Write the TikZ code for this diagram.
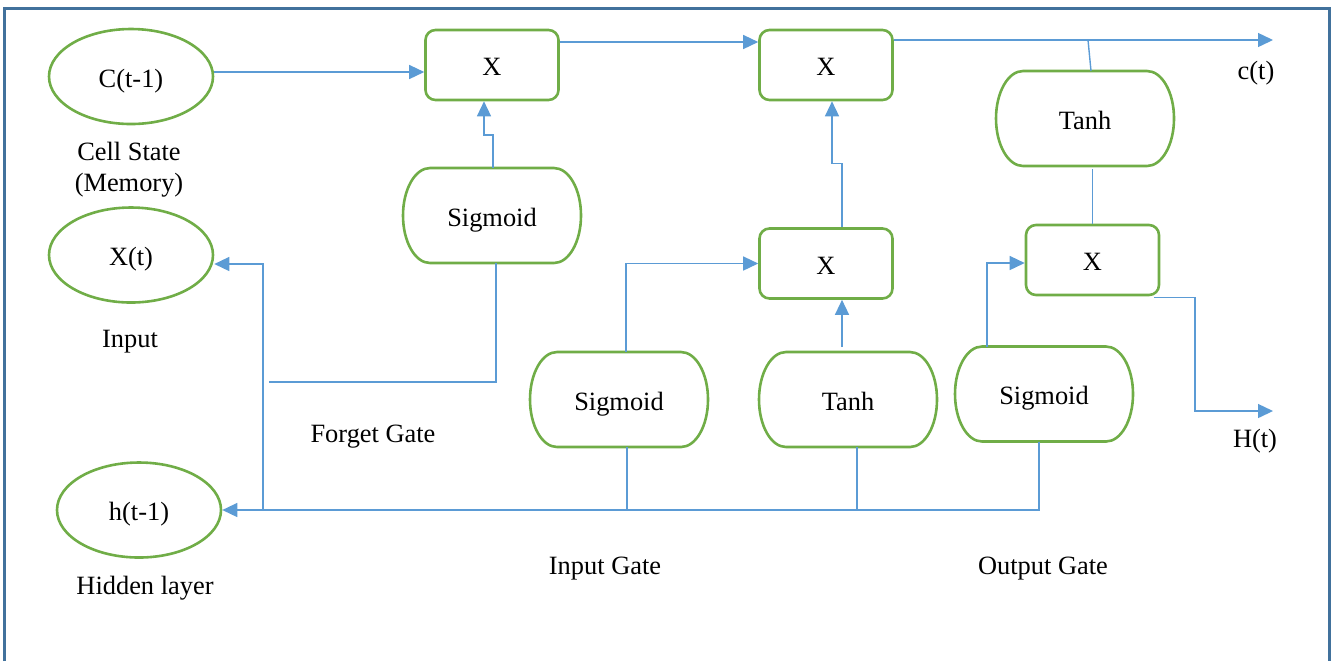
\documentclass[tikz,border=0pt]{standalone}
\usepackage{fontspec}
\setmainfont{Liberation Serif}
\usetikzlibrary{shapes.geometric,arrows.meta,calc}
\definecolor{boxgreen}{HTML}{70AD47}
\definecolor{wireblue}{HTML}{5B9BD5}
\definecolor{frameblue}{HTML}{41719C}
\begin{document}
\begin{tikzpicture}[x=0.5pt,y=-0.5pt,
  font=\fontsize{13.2}{15.5}\selectfont,
  intext/.style={text height=10.5pt,text depth=0pt},
  state/.style={ellipse,draw=boxgreen,line width=1.3pt,minimum width=82pt,minimum height=47.5pt,inner sep=0pt,intext},
  mult/.style={rectangle,rounded corners=5pt,draw=boxgreen,line width=1.3pt,minimum width=66.5pt,minimum height=35pt,inner sep=0pt,intext},
  act/.style={rectangle,minimum width=89pt,minimum height=47.5pt,inner sep=0pt,outer sep=0pt,intext},
  actline/.style={draw=boxgreen,line width=1.3pt},
  wire/.style={draw=wireblue,line width=0.7pt},
  conn/.style={wire,-{Triangle[length=7.5pt,width=7pt]}},
  lbl/.style={inner sep=0pt,align=center}]

\useasboundingbox (0,0) rectangle (1331,661);
% outer frame
\draw[frameblue,line width=1.2pt] (4.5,661) -- (4.5,8.5) -- (1329.5,8.5) -- (1329.5,661);

% states
\node[state] (cprev) at (131,76.5) {C(t-1)};
\node[state] (xin) at (131,255) {X(t)};
\node[state] (hprev) at (139,510) {h(t-1)};

% pointwise products
\node[mult] (mulF) at (492,65) {X};
\node[mult] (mulC) at (826,65) {X};
\node[mult] (mulI) at (826,263.5) {X};
\node[mult] (mulO) at (1092.5,260) {X};

% activations
\node[act] (sigF) at (492,215.5) {Sigmoid};
\node[act] (sigI) at (619,399.5) {Sigmoid};
\node[act] (tanhI) at (848,399.5) {Tanh};
\node[act] (sigO) at (1044,394) {Sigmoid};
\node[act] (tanhC) at (1085,118.5) {Tanh};
% outline: straight top and bottom with half-elliptic ends
\foreach \n in {sigF,sigI,tanhI,sigO,tanhC}
  \draw[actline] ([xshift=13.5pt]\n.north west) -- ([xshift=-13.5pt]\n.north east)
    arc[start angle=90,end angle=-90,x radius=13.5pt,y radius=23.75pt]
    -- ([xshift=13.5pt]\n.south west)
    arc[start angle=270,end angle=90,x radius=13.5pt,y radius=23.75pt] -- cycle;

% labels
\node[lbl] (cellLbl) at (129,169.5) {Cell State\\(Memory)};
\node[lbl] (inLbl) at (130,341.5) {Input};
\node[lbl] (forgetLbl) at (373,437) {Forget Gate};
\node[lbl] (hidLbl) at (145,588) {Hidden layer};
\node[lbl] (inGateLbl) at (605,568.5) {Input Gate};
\node[lbl] (outGateLbl) at (1043,568.5) {Output Gate};
\node[lbl] (ctLbl) at (1256,73) {c(t)};
\node[lbl] (htLbl) at (1255,441.5) {H(t)};

% cell state path
\coordinate (fin) at ([yshift=-3.5pt]mulF.west);
\draw[conn] (cprev.east |- fin) -- (fin);
\draw[conn] ([yshift=11.5pt]mulF.east) -- ([yshift=11.5pt]mulC.west);
\coordinate (cout) at (1273,40);
\draw[conn] (mulC.east |- cout) -- (cout);
\draw[wire] ([xshift=3pt]tanhC.north) -- ([xshift=1.5pt]tanhC.north |- cout);
\draw[wire] ([yshift=-1.5pt]tanhC.south -| mulO.north) -- (mulO.north);

% gate outputs into products
\draw[conn] ([xshift=0.5pt]sigF.north) -- ++(0,16.5pt) -| ([xshift=-4pt]mulF.south);
\draw[conn] ([xshift=8pt]mulI.north) -- ++(0,32pt) -| ([xshift=3pt]mulC.south);
\draw[conn] ([xshift=-3pt,yshift=2.5pt]tanhI.north) -- ([xshift=-3pt]tanhI.north |- mulI.south);
\draw[conn] ([xshift=3.5pt]sigI.north) |- (mulI.west);
\draw[conn] ([xshift=-28.5pt]sigO.north) |- ([yshift=-1.5pt]mulO.west);

% hidden output
\coordinate (hturn) at (1195,411);
\coordinate (hout) at (1273,411);
\draw[conn] ([xshift=-3pt,yshift=-0.5pt]mulO.south east) -| (hturn) -- (hout);

% shared bus back to the inputs
\draw[conn] ([xshift=-2.5pt]sigO.south) |- (hprev.east);
\draw[wire] ([xshift=4.5pt]tanhI.south) -- ([xshift=4.5pt]tanhI.south |- hprev.east);
\draw[wire] ([xshift=4pt]sigI.south) -- ([xshift=4pt]sigI.south |- hprev.east);
\coordinate (xtap) at (263,510);
\draw[conn] (xtap) |- ([yshift=-4.5pt]xin.east);
\coordinate (fstart) at (269,382);
\draw[wire] (fstart) -| ([xshift=2pt]sigF.south);
\end{tikzpicture}
\end{document}
